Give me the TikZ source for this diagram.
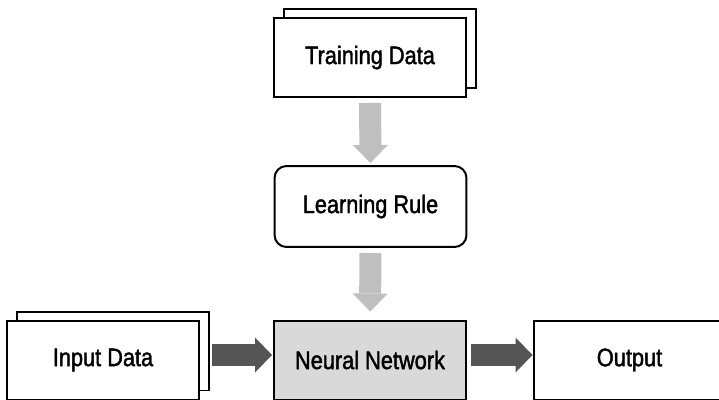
\documentclass[tikz,border=0pt]{standalone}
\usepackage{fontspec}
\setmainfont{Liberation Sans}[FakeStretch=0.86,FakeBold=1.6]
\usetikzlibrary{arrows.meta,positioning}
\definecolor{feedgray}{RGB}{191,191,191}
\definecolor{flowgray}{RGB}{85,85,85}
\definecolor{netgray}{RGB}{217,217,217}

\begin{document}
\begin{tikzpicture}[x=0.02cm,y=-0.02cm,
  box/.style={rectangle,draw=black,line width=0.04cm,fill=white,minimum width=3.84cm,minimum height=1.58cm,font=\fontsize{14.4}{16}\selectfont},
  rbox/.style={box,rounded corners=0.24cm,minimum height=1.62cm},
  feed/.style={draw=feedgray,line width=0.44cm,-{Triangle[length=0.36cm,width=0.7cm,line width=0pt]}},
  flow/.style={draw=flowgray,line width=0.44cm,-{Triangle[length=0.34cm,width=0.7cm,line width=0pt]}}]
\useasboundingbox (0,0) rectangle (719,399);
% top: training data and learning rule
\node[box] (trainback) at (380,48.5) {};
\node[box] (train) at (370,57.5) {Training Data};
\node[rbox] (rule) at (370.5,206.5) {Learning Rule};
% bottom row
\node[box] (inback) at (113,351) {};
\node[box] (input) at (103,360) {Input Data};
\node[box,fill=netgray] (net) at (370,360) {Neural Network};
\node[box] (output) at (629.5,360) {Output};
\draw[feed,shorten <=0.1cm,shorten >=0.04cm] (train) -- (rule);
\draw[feed,shorten <=0.1cm,shorten >=0.16cm] (rule) -- (net);
\draw[flow,shorten <=0.04cm,shorten >=0.02cm] ([yshift=0.1cm]inback.east |- net.west) -- ([yshift=0.1cm]net.west);
\draw[flow,shorten <=0.08cm] ([yshift=0.1cm]net.east) -- ([yshift=0.1cm]output.west);
\end{tikzpicture}
\end{document}
